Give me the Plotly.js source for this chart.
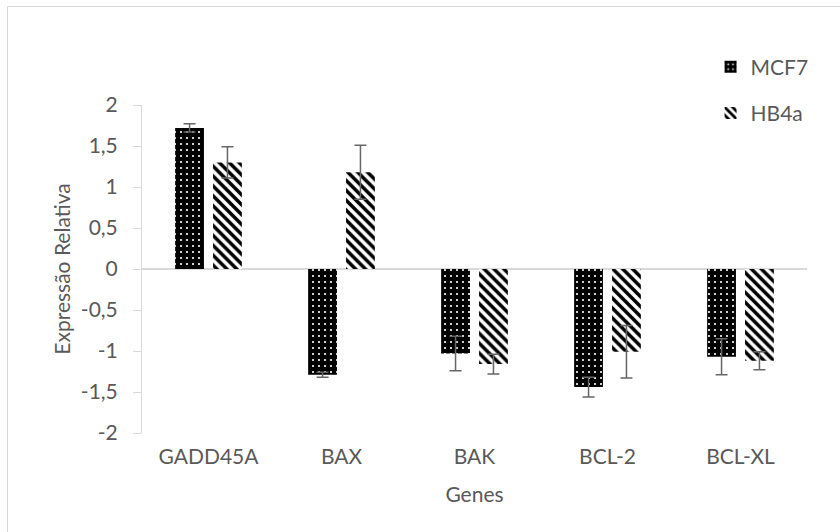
<!DOCTYPE html>
<html>
<head>
<meta charset="utf-8">
<script src="https://cdn.plot.ly/plotly-3.0.1.min.js"></script>
<style>
  html, body { margin: 0; padding: 0; background: #fff; }
  #wrap { position: relative; width: 840px; height: 532px; overflow: hidden; }
  #chart { width: 840px; height: 532px; }
  #frame { position: absolute; left: 7px; top: 6px; width: 840px; height: 540px;
           border: 1px solid #d9d9d9; pointer-events: none; box-sizing: border-box; }
</style>
</head>
<body>
<div id="wrap">
  <div id="chart"></div>
  <div id="frame"></div>
</div>
<script>
// Data
const categories = ['GADD45A', 'BAX', 'BAK', 'BCL-2', 'BCL-XL'];
const mcf7Values = [1.72, -1.29, -1.03, -1.44, -1.07];
const mcf7Errors = [0.05, 0.03, 0.21, 0.12, 0.22];
const hb4aValues = [1.30, 1.18, -1.16, -1.01, -1.12];
const hb4aErrors = [0.19, 0.33, 0.12, 0.32, 0.11];
const yTickValues = [-2, -1.5, -1, -0.5, 0, 0.5, 1, 1.5, 2];
const yTickLabels = ['-2', '-1,5', '-1', '-0,5', '0', '0,5', '1', '1,5', '2'];

const textColor = '#595959';
const fontFamily = 'Lato, "Open Sans", sans-serif';

const errStyle = (arr) => ({
  type: 'data', array: arr, visible: true,
  color: '#666666', thickness: 1.5, width: 6
});

const traces = [
  {
    type: 'bar', name: 'MCF7', x: categories, y: mcf7Values,
    legendgroup: 'a',
    marker: {
      color: '#000000',
      line: { width: 0 },
      pattern: { shape: '.', fillmode: 'replace', bgcolor: '#000000', fgcolor: '#ffffff', size: 6, solidity: 0.1 }
    },
    error_y: errStyle(mcf7Errors)
  },
  {
    type: 'bar', name: 'HB4a', x: categories, y: hb4aValues,
    legendgroup: 'b',
    marker: {
      color: '#000000',
      line: { width: 0 },
      pattern: { shape: '\\', fillmode: 'replace', bgcolor: '#ffffff', fgcolor: '#000000', size: 7, solidity: 0.5 }
    },
    error_y: errStyle(hb4aErrors)
  }
];

const layout = {
  width: 840, height: 532,
  margin: { l: 142, r: 33, t: 105, b: 99 },
  paper_bgcolor: '#ffffff', plot_bgcolor: '#ffffff',
  font: { family: fontFamily, size: 21, color: textColor },
  barmode: 'group',
  bargap: 0.43,
  bargroupgap: 0.24,
  showlegend: true,
  legend: {
    x: 0.855, xanchor: 'left', y: 1.178, yanchor: 'top',
    font: { family: fontFamily, size: 21, color: textColor },
    tracegroupgap: 16, itemwidth: 30, bgcolor: 'rgba(0,0,0,0)'
  },
  xaxis: {
    type: 'category',
    showline: false, showgrid: false, ticks: '', zeroline: false,
    ticklabelstandoff: 9,
    tickfont: { family: fontFamily, size: 21, color: textColor },
    title: { text: 'Genes', font: { family: fontFamily, size: 21, color: textColor }, standoff: 20 }
  },
  yaxis: {
    range: [-2, 2],
    tickmode: 'array', tickvals: yTickValues, ticktext: yTickLabels,
    showgrid: false,
    showline: true, linecolor: '#d9d9d9', linewidth: 1,
    ticks: 'outside', ticklen: 8, tickcolor: '#d9d9d9', tickwidth: 1,
    zeroline: true, zerolinecolor: '#d9d9d9', zerolinewidth: 1.5,
    ticklabelstandoff: 11,
    tickfont: { family: fontFamily, size: 21, color: textColor },
    title: { text: 'Expressão Relativa', font: { family: fontFamily, size: 21, color: textColor }, standoff: 4 }
  }
};

Plotly.newPlot('chart', traces, layout, { displayModeBar: false, staticPlot: true });
</script>
</body>
</html>
